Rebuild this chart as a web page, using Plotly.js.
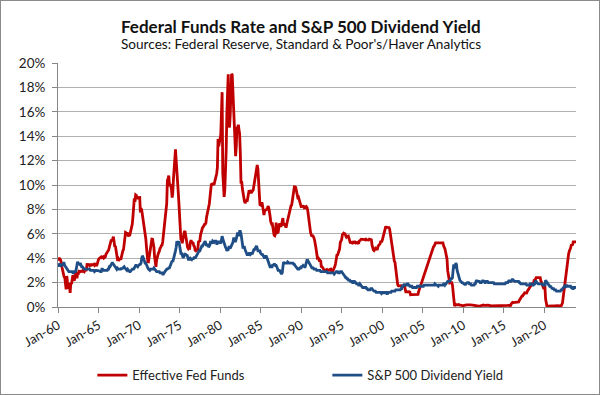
<!DOCTYPE html>
<html>
<head>
<meta charset="utf-8">
<script src="https://cdn.plot.ly/plotly-3.0.1.min.js"></script>
<style>
  html, body { margin: 0; padding: 0; background: #fff; }
  #chart { width: 598px; height: 393px; border: 1px solid #8a8a8a; }
</style>
</head>
<body>
<div id="chart"></div>
<script>
// ---- Data (monthly, starting Jan 1960) ----
const startYear = 1960;
const seriesNames = ["Effective Fed Funds", "S&P 500 Dividend Yield"];
const tickLabels = ["Jan-60","Jan-65","Jan-70","Jan-75","Jan-80","Jan-85","Jan-90","Jan-95","Jan-00","Jan-05","Jan-10","Jan-15","Jan-20"];

const fedFunds = [
 3.99,3.97,3.84,3.92,3.85,3.32,3.23,2.98,2.60,2.47,2.44,1.98,
 1.45,2.54,2.02,1.49,1.98,1.73,1.16,2.00,1.88,2.26,2.61,2.33,
 2.15,2.37,2.85,2.78,2.36,2.68,2.71,2.93,2.90,2.90,2.94,2.93,
 2.92,3.00,2.98,2.90,3.00,2.99,3.02,3.49,3.48,3.50,3.48,3.38,
 3.48,3.48,3.43,3.47,3.50,3.50,3.42,3.50,3.45,3.36,3.52,3.85,
 3.90,3.98,4.04,4.09,4.10,4.04,4.09,4.12,4.01,4.08,4.10,4.32,
 4.42,4.60,4.65,4.67,4.90,5.17,5.30,5.53,5.40,5.53,5.76,5.40,
 4.94,5.00,4.53,4.05,3.94,3.98,3.79,3.90,3.99,3.88,4.13,4.51,
 4.61,4.71,5.05,5.76,6.11,6.07,6.02,6.03,5.78,5.91,5.82,6.02,
 6.30,6.61,6.79,7.41,8.67,8.90,8.61,9.19,9.15,9.00,8.85,8.97,
 8.98,8.98,7.76,8.10,7.95,7.61,7.21,6.61,6.29,6.20,5.60,4.90,
 4.14,3.72,3.71,4.16,4.63,4.91,5.31,5.56,5.55,5.20,4.91,4.14,
 3.50,3.29,3.83,4.17,4.27,4.46,4.55,4.80,4.87,5.04,5.06,5.33,
 5.94,6.58,7.09,7.12,7.84,8.49,10.40,10.50,10.78,10.01,10.03,9.95,
 9.65,8.97,9.35,10.51,11.31,11.93,12.92,12.01,11.34,10.06,9.45,8.53,
 7.13,6.24,5.54,5.49,5.22,5.55,6.10,6.14,6.24,5.82,5.22,5.20,
 4.87,4.77,4.84,4.82,5.29,5.48,5.31,5.29,5.25,5.03,4.95,4.65,
 4.61,4.68,4.69,4.73,5.35,5.39,5.42,5.90,6.14,6.47,6.51,6.56,
 6.70,6.78,6.79,6.89,7.36,7.60,7.81,8.04,8.45,8.96,9.76,10.03,
 10.07,10.06,10.09,10.01,10.24,10.29,10.47,10.94,11.43,13.77,13.18,13.78,
 13.82,14.13,17.19,17.61,10.98,9.47,9.03,9.61,10.87,12.81,15.85,18.90,
 19.08,15.93,14.70,15.72,18.52,19.10,19.04,17.82,15.87,15.08,13.31,12.37,
 13.22,14.78,14.68,14.94,14.45,14.15,12.59,10.12,10.31,9.71,9.20,8.95,
 8.68,8.51,8.77,8.80,8.63,8.98,9.37,9.56,9.45,9.48,9.34,9.47,
 9.56,9.59,9.91,10.29,10.32,11.06,11.23,11.64,11.30,9.99,9.43,8.38,
 8.35,8.50,8.58,8.27,7.97,7.53,7.88,7.90,7.92,7.99,8.05,8.27,
 8.14,7.86,7.48,6.99,6.85,6.92,6.56,6.17,5.89,5.85,6.04,6.91,
 6.43,6.10,6.13,6.37,6.85,6.73,6.58,6.73,7.22,7.29,6.69,6.77,
 6.83,6.58,6.58,6.87,7.09,7.51,7.75,8.01,8.19,8.30,8.35,8.76,
 9.12,9.36,9.85,9.84,9.81,9.53,9.24,8.99,9.02,8.84,8.55,8.45,
 8.23,8.24,8.28,8.26,8.18,8.29,8.15,8.13,8.20,8.11,7.81,7.31,
 6.91,6.25,6.12,5.91,5.78,5.90,5.82,5.66,5.45,5.21,4.81,4.43,
 4.03,4.06,3.98,3.73,3.82,3.76,3.25,3.30,3.22,3.10,3.09,2.92,
 3.02,3.03,3.07,2.96,3.00,3.04,3.06,3.03,3.09,2.99,3.02,2.96,
 3.05,3.25,3.34,3.56,4.01,4.25,4.26,4.47,4.73,4.76,5.29,5.45,
 5.53,5.92,5.98,6.05,6.01,6.00,5.85,5.74,5.80,5.76,5.80,5.60,
 5.56,5.22,5.31,5.22,5.24,5.27,5.40,5.22,5.30,5.24,5.31,5.29,
 5.25,5.19,5.39,5.51,5.50,5.56,5.52,5.54,5.54,5.50,5.52,5.50,
 5.56,5.51,5.49,5.45,5.49,5.56,5.54,5.55,5.51,5.07,4.83,4.68,
 4.63,4.76,4.81,4.74,4.74,4.76,4.99,5.07,5.22,5.20,5.42,5.30,
 5.45,5.73,5.85,6.02,6.27,6.53,6.54,6.50,6.52,6.51,6.51,6.40,
 5.98,5.49,5.31,4.80,4.21,3.97,3.77,3.65,3.07,2.49,2.09,1.82,
 1.73,1.74,1.73,1.75,1.75,1.75,1.73,1.74,1.75,1.75,1.34,1.24,
 1.24,1.26,1.25,1.26,1.26,1.22,1.01,1.03,1.01,1.01,1.00,0.98,
 1.00,1.01,1.00,1.00,1.00,1.03,1.26,1.43,1.61,1.76,1.93,2.16,
 2.28,2.50,2.63,2.79,3.00,3.04,3.26,3.50,3.62,3.78,4.00,4.16,
 4.29,4.49,4.59,4.79,4.94,4.99,5.24,5.25,5.25,5.25,5.25,5.24,
 5.25,5.26,5.26,5.25,5.25,5.25,5.26,5.02,4.94,4.76,4.49,4.24,
 3.94,2.98,2.61,2.28,1.98,2.00,2.01,2.00,1.81,0.97,0.39,0.16,
 0.15,0.22,0.18,0.15,0.18,0.21,0.16,0.16,0.15,0.12,0.12,0.12,
 0.11,0.13,0.16,0.20,0.20,0.18,0.18,0.19,0.19,0.19,0.19,0.18,
 0.17,0.16,0.14,0.10,0.09,0.09,0.07,0.10,0.08,0.07,0.08,0.07,
 0.08,0.10,0.13,0.14,0.16,0.16,0.16,0.13,0.14,0.16,0.16,0.16,
 0.14,0.15,0.14,0.15,0.11,0.09,0.09,0.08,0.08,0.09,0.08,0.09,
 0.07,0.07,0.08,0.09,0.09,0.10,0.09,0.09,0.09,0.09,0.09,0.12,
 0.11,0.11,0.11,0.12,0.12,0.13,0.13,0.14,0.14,0.12,0.12,0.24,
 0.34,0.38,0.36,0.37,0.37,0.38,0.39,0.40,0.40,0.40,0.41,0.54,
 0.65,0.66,0.79,0.90,0.91,1.04,1.15,1.16,1.15,1.15,1.16,1.30,
 1.41,1.42,1.51,1.69,1.70,1.82,1.91,1.91,1.95,2.19,2.20,2.27,
 2.40,2.40,2.41,2.42,2.39,2.38,2.40,2.13,2.04,1.83,1.55,1.55,
 1.55,1.58,0.65,0.05,0.05,0.08,0.09,0.10,0.09,0.09,0.09,0.09,
 0.09,0.08,0.07,0.07,0.06,0.08,0.10,0.09,0.08,0.08,0.08,0.08,
 0.08,0.08,0.20,0.33,0.77,1.21,1.68,2.33,2.56,3.08,3.78,4.10,
 4.33,4.57,4.65,4.83,5.06,5.08,5.12,5.33,5.33,5.33,5.33,5.33
];

const divYield = [
 3.4,3.4,3.5,3.5,3.4,3.4,3.5,3.4,3.6,3.6,3.4,3.3,
 3.2,3.1,3.0,2.9,2.9,2.9,2.9,2.9,2.9,2.9,2.8,2.8,
 2.9,2.9,2.9,3.1,3.4,3.7,3.6,3.5,3.5,3.6,3.4,3.3,
 3.3,3.2,3.2,3.1,3.1,3.1,3.1,3.1,3.1,3.1,3.1,3.1,
 3.0,3.0,3.0,3.0,3.0,3.0,2.9,3.0,3.0,3.0,3.0,3.0,
 3.0,2.95,2.95,2.9,2.9,3.1,3.1,3.0,3.0,2.95,3.0,3.0,
 3.0,3.0,3.1,3.1,3.3,3.3,3.4,3.6,3.6,3.6,3.5,3.4,
 3.3,3.2,3.2,3.1,3.2,3.1,3.1,3.1,3.1,3.1,3.2,3.1,
 3.2,3.3,3.3,3.2,3.1,3.0,3.0,3.1,3.0,2.9,2.9,2.9,
 3.0,3.0,3.1,3.1,3.1,3.2,3.4,3.4,3.4,3.3,3.3,3.4,
 3.5,3.5,3.5,3.6,4.0,4.2,4.1,3.9,3.7,3.6,3.6,3.4,
 3.3,3.2,3.1,3.0,3.0,3.1,3.1,3.1,3.1,3.1,3.2,3.1,
 3.0,3.0,2.9,2.9,2.9,2.9,2.9,2.8,2.8,2.8,2.8,2.7,
 2.7,2.8,2.9,3.0,3.0,3.1,3.1,3.2,3.2,3.2,3.4,3.6,
 3.7,3.8,3.7,3.9,4.1,4.2,4.6,4.9,5.4,5.2,5.1,5.4,
 5.0,4.6,4.4,4.4,4.2,4.1,4.1,4.4,4.4,4.3,4.2,4.3,
 4.0,3.9,3.9,3.9,4.0,3.9,3.9,4.0,3.9,4.0,4.1,4.0,
 4.1,4.3,4.4,4.5,4.5,4.6,4.6,4.8,4.9,5.0,5.0,5.1,
 5.3,5.4,5.4,5.2,5.0,5.1,5.1,4.9,5.0,5.1,5.4,5.3,
 5.2,5.4,5.3,5.3,5.4,5.4,5.4,5.2,5.2,5.3,5.4,5.3,
 5.3,5.2,5.8,5.8,5.6,5.4,5.1,5.0,4.9,4.8,4.6,4.7,
 4.7,4.9,4.9,4.8,4.9,5.0,5.1,5.3,5.6,5.6,5.4,5.4,
 5.6,5.9,6.1,5.9,5.9,6.2,6.2,6.0,5.4,5.0,4.8,4.9,
 4.9,4.7,4.5,4.4,4.3,4.3,4.3,4.4,4.4,4.3,4.4,4.4,
 4.4,4.6,4.7,4.7,4.9,4.9,5.0,4.6,4.6,4.6,4.6,4.6,
 4.4,4.3,4.3,4.3,4.2,4.1,4.0,4.1,4.2,4.1,3.9,3.7,
 3.7,3.5,3.3,3.3,3.3,3.3,3.5,3.4,3.5,3.5,3.4,3.4,
 3.3,3.1,3.0,3.0,3.0,2.9,2.8,2.7,2.8,3.3,3.7,3.6,
 3.6,3.6,3.6,3.6,3.7,3.6,3.6,3.6,3.6,3.6,3.6,3.6,
 3.6,3.5,3.5,3.4,3.3,3.3,3.2,3.1,3.1,3.1,3.2,3.2,
 3.2,3.4,3.3,3.4,3.3,3.3,3.3,3.5,3.8,3.9,3.8,3.7,
 3.6,3.4,3.3,3.2,3.2,3.2,3.2,3.1,3.1,3.1,3.1,3.0,
 3.0,3.0,3.0,3.0,3.0,2.9,2.9,2.9,2.9,2.9,2.9,2.9,
 2.9,2.9,2.9,2.8,2.8,2.8,2.8,2.8,2.8,2.8,2.8,2.8,
 2.8,2.7,2.8,2.9,2.9,2.9,2.9,2.8,2.8,2.8,2.9,2.9,
 2.9,2.8,2.7,2.7,2.6,2.5,2.4,2.4,2.3,2.3,2.2,2.2,
 2.2,2.1,2.1,2.1,2.0,2.0,2.1,2.1,2.0,2.0,1.9,1.9,
 1.9,1.8,1.8,1.9,1.8,1.7,1.6,1.6,1.6,1.6,1.6,1.6,
 1.6,1.5,1.5,1.4,1.4,1.4,1.4,1.5,1.5,1.5,1.4,1.3,
 1.3,1.3,1.3,1.2,1.2,1.2,1.2,1.2,1.2,1.2,1.2,1.1,
 1.2,1.2,1.2,1.1,1.2,1.2,1.2,1.1,1.1,1.2,1.2,1.2,
 1.2,1.2,1.3,1.3,1.3,1.3,1.3,1.3,1.4,1.4,1.4,1.4,
 1.4,1.4,1.4,1.4,1.5,1.5,1.7,1.7,1.8,1.9,1.8,1.8,
 1.8,1.9,1.9,1.8,1.8,1.7,1.7,1.7,1.7,1.6,1.6,1.6,
 1.6,1.6,1.6,1.6,1.7,1.7,1.7,1.7,1.7,1.7,1.7,1.7,
 1.7,1.7,1.8,1.8,1.8,1.8,1.8,1.8,1.8,1.8,1.8,1.8,
 1.8,1.8,1.8,1.8,1.8,1.8,1.9,1.8,1.8,1.8,1.7,1.7,
 1.8,1.8,1.8,1.8,1.8,1.8,1.8,1.9,1.9,1.8,1.9,1.9,
 2.0,2.1,2.1,2.1,2.1,2.2,2.4,2.3,2.4,3.0,3.5,3.2,
 3.3,3.6,3.5,3.0,2.7,2.5,2.4,2.2,2.1,2.1,2.0,2.0,
 1.9,1.9,1.9,1.8,1.9,2.0,2.0,2.0,2.0,1.9,1.9,1.9,
 1.8,1.8,1.8,1.8,1.8,1.9,1.9,2.1,2.2,2.1,2.1,2.1,
 2.1,2.0,2.0,2.0,2.1,2.2,2.1,2.1,2.0,2.0,2.1,2.1,
 2.1,2.0,2.0,2.0,2.0,2.0,2.0,2.0,2.0,2.0,1.9,1.9,
 1.9,1.9,1.9,1.9,1.9,1.9,1.9,1.9,1.9,1.9,1.9,1.9,
 1.9,1.9,1.9,2.0,2.0,2.0,2.0,2.1,2.2,2.1,2.1,2.1,
 2.2,2.3,2.2,2.1,2.1,2.1,2.1,2.1,2.1,2.1,2.1,2.0,
 2.0,1.9,1.9,1.9,1.9,1.9,1.9,1.9,1.9,1.9,1.8,1.8,
 1.8,1.8,1.8,1.9,1.9,1.9,1.9,1.8,1.8,1.9,1.9,2.1,
 2.1,2.0,1.9,1.9,1.9,1.9,1.9,1.9,1.9,1.9,1.8,1.8,
 1.8,1.8,2.2,2.1,2.0,1.9,1.8,1.7,1.7,1.7,1.6,1.6,
 1.5,1.5,1.5,1.4,1.4,1.4,1.3,1.3,1.3,1.3,1.3,1.3,
 1.3,1.4,1.4,1.5,1.6,1.7,1.7,1.6,1.7,1.8,1.7,1.7,
 1.7,1.7,1.7,1.7,1.6,1.6,1.5,1.5,1.6,1.6,1.6,1.5
];

// month dates for each observation
function monthDates(n) {
  const out = [];
  for (let i = 0; i < n; i++) {
    const y = startYear + Math.floor(i / 12);
    const m = (i % 12) + 1;
    out.push(y + "-" + (m < 10 ? "0" + m : m) + "-01");
  }
  return out;
}
const tickVals = tickLabels.map((_, i) => (startYear + 5 * i) + "-01-01");

const font = "Lato, 'Open Sans', sans-serif";

const traces = [
  { x: monthDates(fedFunds.length), y: fedFunds, name: seriesNames[0], type: "scatter", mode: "lines",
    line: { color: "#C00000", width: 2.8 } },
  { x: monthDates(divYield.length), y: divYield, name: seriesNames[1], type: "scatter", mode: "lines",
    line: { color: "#1F4E86", width: 2.8 } }
];

const layout = {
  width: 598, height: 393,
  margin: { l: 57, r: 23, t: 62, b: 87 },
  paper_bgcolor: "#fff", plot_bgcolor: "#fff",
  font: { family: font, size: 12, color: "#222" },
  showlegend: true,
  legend: { orientation: "h", xref: "paper", x: 0.52, xanchor: "center",
            yref: "container", y: 0.048, yanchor: "middle",
            font: { family: font, size: 13, color: "#222" }, entrywidth: 190, entrywidthmode: "pixels",
            itemwidth: 30, tracegroupgap: 0 },
  xaxis: {
    type: "date", range: ["1960-01-01", "2023-12-01"],
    tickmode: "array", tickvals: tickVals, ticktext: tickLabels,
    tickangle: -30, ticks: "outside", ticklen: 5, tickcolor: "#868686",
    showline: true, linecolor: "#868686", linewidth: 1, showgrid: false, zeroline: false,
    tickfont: { family: font, size: 13, color: "#222" }
  },
  yaxis: {
    range: [0, 20], dtick: 2, tick0: 0, ticksuffix: "%",
    ticks: "outside", ticklen: 5, tickcolor: "#868686", ticklabelstandoff: 4,
    showline: true, linecolor: "#868686", linewidth: 1,
    showgrid: true, gridcolor: "#b0b0b0", gridwidth: 1, zeroline: false,
    tickfont: { family: font, size: 13.5, color: "#222" }
  },
  annotations: [
    { text: "<b>Federal Funds Rate and S&P 500 Dividend Yield</b>", xref: "paper", yref: "paper",
      x: 0.47, y: 1.0, yshift: 37, xanchor: "center", yanchor: "middle", showarrow: false,
      font: { family: font, size: 17, color: "#111" } },
    { text: "Sources: Federal Reserve, Standard & Poor's/Haver Analytics", xref: "paper", yref: "paper",
      x: 0.47, y: 1.0, yshift: 19, xanchor: "center", yanchor: "middle", showarrow: false,
      font: { family: font, size: 13.6, color: "#111" } }
  ]
};

Plotly.newPlot("chart", traces, layout, { displayModeBar: false, staticPlot: true });
</script>
</body>
</html>
